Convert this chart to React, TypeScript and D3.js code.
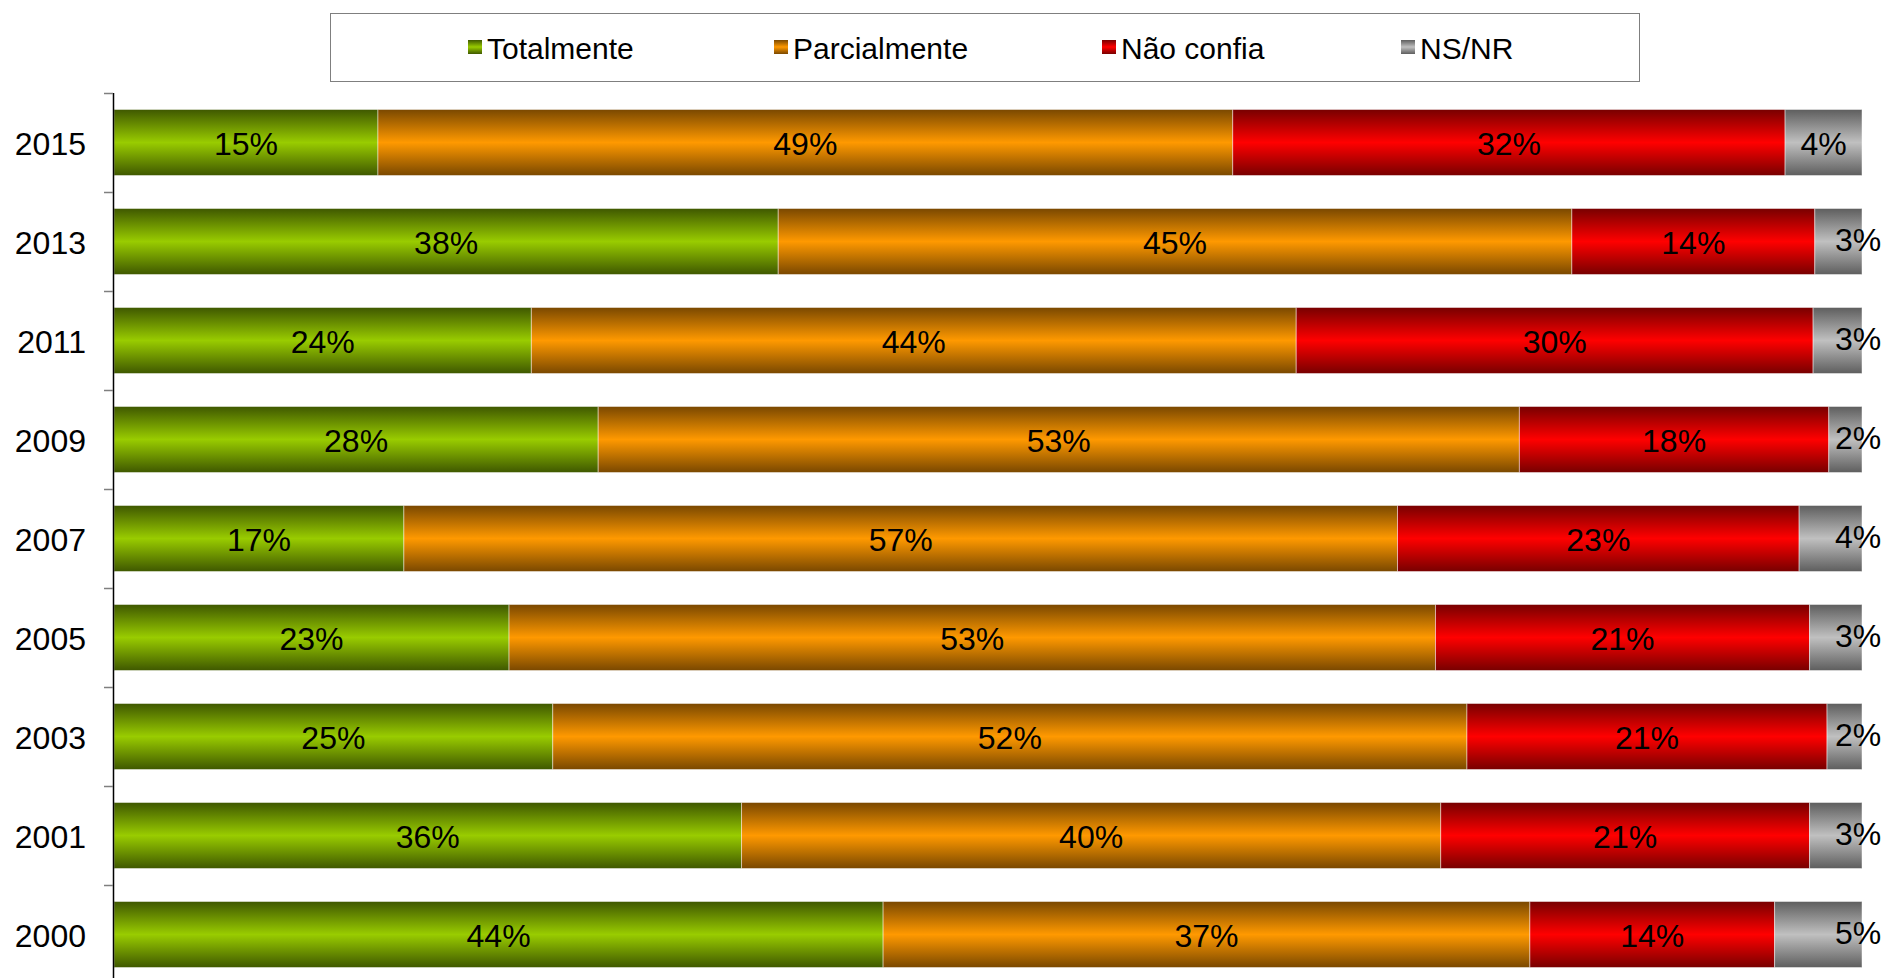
import React from "react";
import * as d3 from "d3";

const years = ["2015", "2013", "2011", "2009", "2007", "2005", "2003", "2001", "2000"];
const seriesNames = ["Totalmente", "Parcialmente", "Não confia", "NS/NR"];
const totalmente = [15.1, 38.0, 23.9, 27.7, 16.6, 22.6, 25.1, 35.9, 44.0];
const parcialmente = [48.9, 45.4, 43.8, 52.7, 56.9, 53.0, 52.3, 40.0, 37.0];
const naoConfia = [31.6, 13.9, 29.6, 17.7, 23.0, 21.4, 20.6, 21.1, 14.0];
const nsnr = [4.4, 2.7, 2.8, 1.9, 3.6, 3.0, 2.0, 3.0, 5.0];

const colors = [
  { dark: "#3f5800", mid: "#99cc00" },
  { dark: "#7a4800", mid: "#ff9900" },
  { dark: "#780000", mid: "#ff0000" },
  { dark: "#5e5e5e", mid: "#c0c0c0" },
];

const W = 1885;
const H = 978;
const FONT = "'Liberation Sans', Arial, sans-serif";

export default function App() {
  const series = [totalmente, parcialmente, naoConfia, nsnr];
  const rows = years.map((y, i) => {
    const vals = series.map((s) => s[i]);
    const sum = d3.sum(vals);
    return { year: y, vals: vals.map((v) => (v / sum) * 100) };
  });
  const stack = d3
    .stack<any>()
    .keys(seriesNames.map((_, k) => String(k)))
    .value((d: any, key: string) => d.vals[+key]);
  const stacked = stack(rows);

  const x = d3.scaleLinear().domain([0, 100]).range([114, 1862]);
  const y = d3
    .scaleBand<string>()
    .domain(years)
    .range([93, 984])
    .paddingInner(1 / 3)
    .paddingOuter(1 / 6);
  const step = y.step();
  const bw = y.bandwidth();
  const fmt = (v: number) => `${Math.round(v)}%`;

  const legendX = [468, 774, 1102, 1401];

  return (
    <svg
      width={W}
      height={H}
      style={{ position: "absolute", left: 0, top: 0, background: "#fff" }}
      fontFamily={FONT}
    >
      <defs>
        {colors.map((c, i) => (
          <linearGradient key={i} id={`g${i}`} x1="0" y1="0" x2="0" y2="1">
            <stop offset="0" stopColor={c.dark} />
            <stop offset="0.5" stopColor={c.mid} />
            <stop offset="1" stopColor={c.dark} />
          </linearGradient>
        ))}
      </defs>

      {/* Legend */}
      <rect x={330.5} y={13.5} width={1309} height={68} fill="#fff" stroke="#7f7f7f" strokeWidth={1} />
      {seriesNames.map((n, i) => (
        <g key={n}>
          <rect x={legendX[i]} y={40} width={14} height={14} fill={`url(#g${i})`} />
          <text x={legendX[i] + 19} y={48} dominantBaseline="central" fontSize={30} fill="#000">
            {n}
          </text>
        </g>
      ))}

      {/* Bars */}
      {stacked.map((layer, k) => (
        <g key={k}>
          {layer.map((d: any, i: number) => {
            const x0 = x(d[0]);
            const x1 = x(d[1]);
            return (
              <rect
                key={i}
                x={x0}
                y={y(d.data.year)!}
                width={x1 - x0}
                height={bw}
                fill={`url(#g${k})`}
                stroke="rgba(255,255,255,0.45)"
                strokeWidth={1}
              />
            );
          })}
        </g>
      ))}

      {/* Labels */}
      {stacked.map((layer, k) => (
        <g key={`l${k}`}>
          {layer.map((d: any, i: number) => {
            const cx = (x(d[0]) + x(d[1])) / 2;
            const cy = y(d.data.year)! + bw / 2 + 1;
            const last = k === stacked.length - 1;
            const shifted = last && i > 0;
            return (
              <text
                key={i}
                x={shifted ? x(100) - 27 : cx}
                y={shifted ? cy - 3 : cy}
                textAnchor={shifted ? "start" : "middle"}
                dominantBaseline="central"
                fontSize={32}
                fill="#000"
              >
                {fmt(d[1] - d[0])}
              </text>
            );
          })}
        </g>
      ))}

      {/* Axis */}
      <line x1={113.5} x2={113.5} y1={93} y2={984} stroke="#000" strokeWidth={1.5} />
      {years.map((yr, i) => (
        <line
          key={yr}
          x1={104}
          x2={113}
          y1={93 + i * step + 0.5}
          y2={93 + i * step + 0.5}
          stroke="#7f7f7f"
          strokeWidth={1.5}
        />
      ))}
      {years.map((yr) => (
        <text
          key={`t${yr}`}
          x={86}
          y={y(yr)! + bw / 2 + 1}
          textAnchor="end"
          dominantBaseline="central"
          fontSize={32}
          fill="#000"
        >
          {yr}
        </text>
      ))}
    </svg>
  );
}
